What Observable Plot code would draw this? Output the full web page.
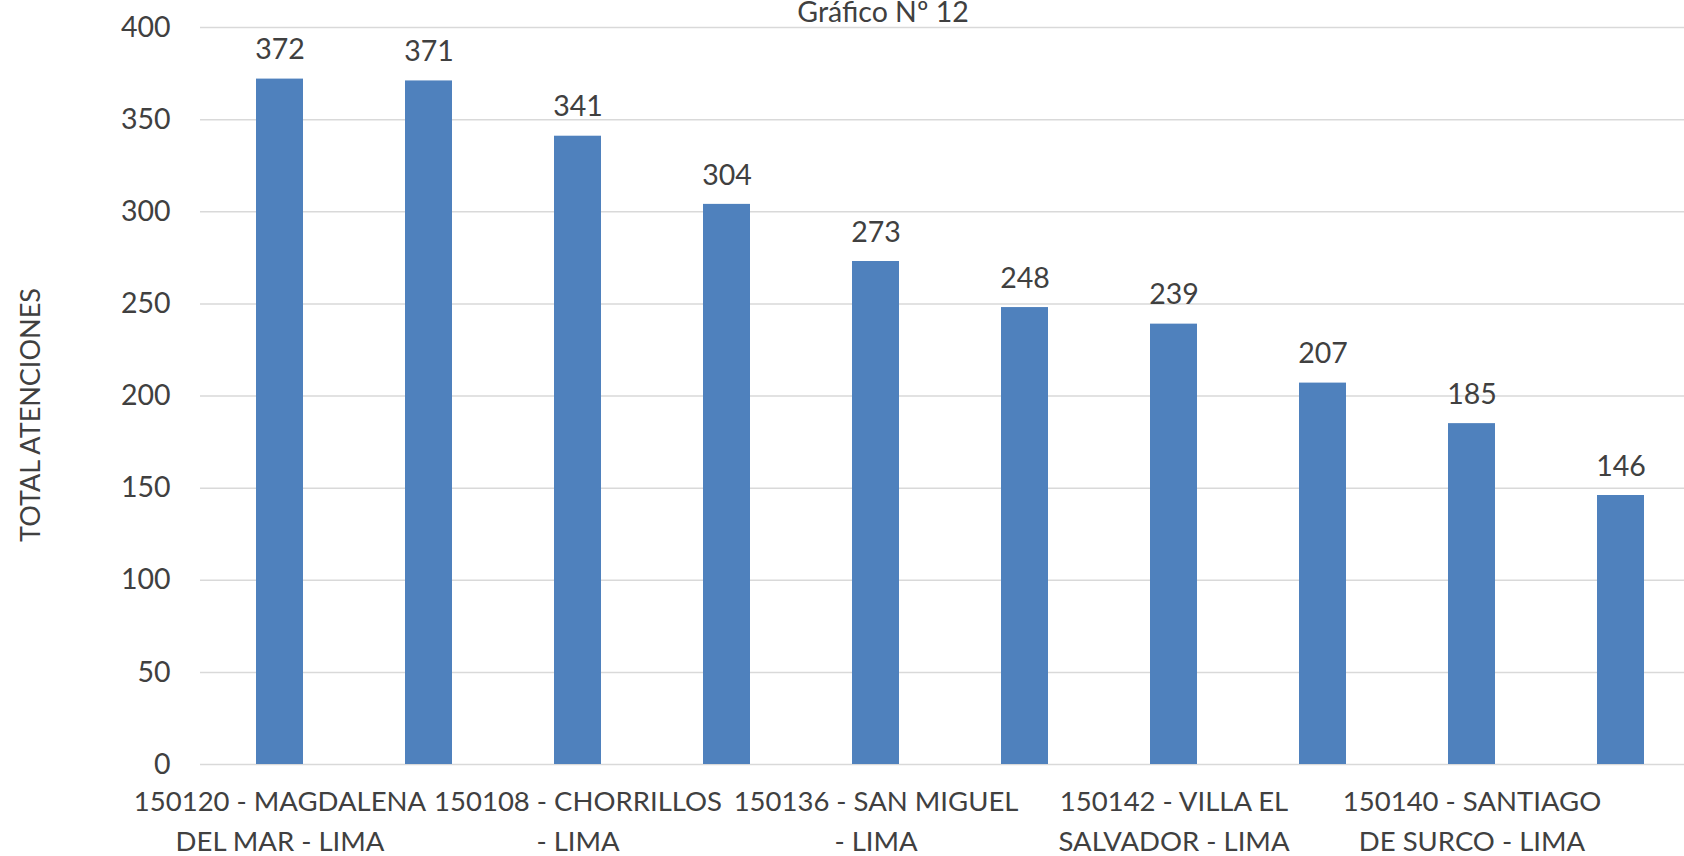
<!DOCTYPE html>
<html><head><meta charset="utf-8">
<script src="https://cdn.jsdelivr.net/npm/d3@7"></script>
<script src="https://cdn.jsdelivr.net/npm/@observablehq/plot@0.6"></script>
<style>
html,body{margin:0;padding:0;background:#fff;overflow:hidden}
#wrap{position:relative;width:1684px;height:856px;font-family:Lato,sans-serif;color:#404040}
#title{position:absolute;left:883px;top:-3px;transform:translateX(-50%);font-size:28.5px;line-height:1;white-space:nowrap}
#ylabel{position:absolute;left:29px;top:415px;transform:translate(-50%,-50%) rotate(-90deg);font-size:27px;line-height:1;white-space:nowrap}
#chart svg{overflow:hidden}
</style></head><body>
<div id="wrap"><div id="chart"></div><div id="title"></div><div id="ylabel"></div></div>
<script>
const title = "Gráfico Nº 12";
const yTitle = "TOTAL ATENCIONES";
const categoryLabels = [
  "150120 - MAGDALENA\nDEL MAR - LIMA", "",
  "150108 - CHORRILLOS\n- LIMA", "",
  "150136 - SAN MIGUEL\n- LIMA", "",
  "150142 - VILLA EL\nSALVADOR - LIMA", "",
  "150140 - SANTIAGO\nDE SURCO - LIMA", ""
];
const values = [372, 371, 341, 304, 273, 248, 239, 207, 185, 146];
const yTicks = [0, 50, 100, 150, 200, 250, 300, 350, 400];

const data = values.map((v, i) => ({i, v, label: categoryLabels[i]}));

document.getElementById("title").textContent = title;
document.getElementById("ylabel").textContent = yTitle;

const chart = Plot.plot({
  width: 1684, height: 856,
  marginLeft: 200, marginRight: -15, marginTop: 27, marginBottom: 92,
  style: {fontFamily: "Lato, sans-serif", fontSize: "28.5px", color: "#404040", background: "#fff"},
  x: {type: "band", domain: data.map(d => d.i), paddingInner: 0.687, paddingOuter: 0.3435, axis: null},
  y: {domain: [0, 400], ticks: yTicks.length - 1, tickSize: 0, tickPadding: 30, label: null},
  marks: [
    Plot.ruleY(yTicks, {stroke: "#d9d9d9", strokeWidth: 1.5}),
    Plot.barY(data, {x: "i", y: "v", fill: "#4f81bd"}),
    Plot.text(data, {x: "i", y: "v", text: d => String(d.v), dy: -29, fill: "#404040", fontSize: 28.5}),
    Plot.text(data.filter(d => d.label), {x: "i", text: "label", frameAnchor: "bottom", lineAnchor: "top", dy: 19, lineHeight: 1.43, fill: "#404040", fontSize: 27.5})
  ]
});
document.getElementById("chart").appendChild(chart);
</script>
</body></html>
